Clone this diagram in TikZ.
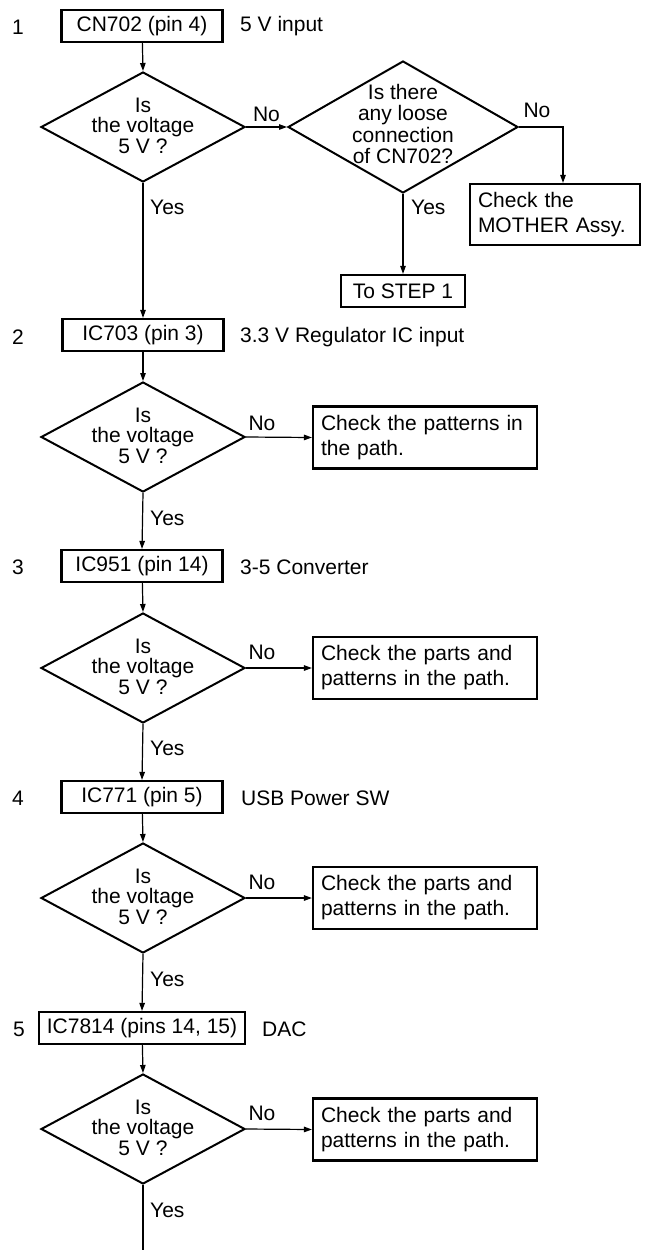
\documentclass[tikz,border=0pt]{standalone}
\usepackage{fontspec}
\setmainfont{Liberation Sans}
\usetikzlibrary{shapes.geometric,arrows.meta}
\begin{document}
\begin{tikzpicture}[x=1pt,y=-1pt,
  every node/.style={font=\fontsize{21}{21}\selectfont, inner sep=0pt},
  stepbox/.style={draw, line width=2.2pt, minimum width=161pt, minimum height=32pt},
  dia/.style={draw, diamond, line width=2pt, minimum width=204pt, minimum height=110pt},
  dtext/.style={align=center, font=\fontsize{21}{20.5}\selectfont},
  chk/.style={draw, line width=2.2pt, minimum width=224pt, minimum height=62pt, text width=208pt, align=left, font=\fontsize{21}{25}\selectfont},
  conn/.style={line width=1.2pt},
  arr/.style={conn, -{Triangle[length=8pt,width=5.5pt]}},
  lbl/.style={anchor=west},
  num/.style={anchor=center}
]
\useasboundingbox (0,0) rectangle (669,1250);

% ---------- Step 1 ----------
\node[num] (n1) at (18,27) {1};
\node[stepbox] (s1) at (142,26) {CN702 (pin 4)};
\node[lbl] (t1) at (240,26) {5 V input};
\node[dia] (d1) at (143,127) {};
\node[dtext] (d1t) at (143,125.5) {Is\\the voltage\\5 V ?};

\node[draw, diamond, line width=2pt, minimum width=230pt, minimum height=132pt] (q) at (403,127) {};
\node[dtext, font=\fontsize{21}{21.5}\selectfont] (qt) at (403,124) {Is there\\any loose\\connection\\of CN702?};
\node[draw, line width=2.2pt, minimum width=170pt, minimum height=61pt, text width=154pt, align=left, font=\fontsize{21}{25}\selectfont] (m) at (555,214.5) {Check the\\MOTHER Assy.};
\node[draw, line width=2.2pt, minimum width=124pt, minimum height=32pt] (ts) at (403,291) {To STEP 1};

\draw[arr] (s1) -- (d1.north);
\draw[arr] (d1.east) -- node[above=5pt] (no1) {No} (q.west);
\draw[arr] (q.east) -| ([xshift=8pt]m.north);
\node (no1b) at (537,110) {No};
\draw[arr] (q.south) -- (ts.north);
\node[lbl] (yq) at (411,207) {Yes};
\node[lbl] (y1) at (150,207) {Yes};

% ---------- Step 2 ----------
\node[num] (n2) at (18,337) {2};
\node[stepbox] (s2) at (143,335) {IC703 (pin 3)};
\node[lbl] (t2) at (240,337) {3.3 V Regulator IC input};
\node[dia] (d2) at (143,437) {};
\node[dtext] (d2t) at (143,435.5) {Is\\the voltage\\5 V ?};
\node[chk] (c2) at (425,437.5) {Check the patterns in the path.};
\draw[arr] (d1.south) -- (s2.north);
\draw[arr] (s2) -- (d2.north);
\draw[arr] (d2.east) -- (c2.west);
\node (no2) at (262,423) {No};
\node[lbl] (y2) at (150,518) {Yes};

% ---------- Step 3 ----------
\node[num] (n3) at (18,567) {3};
\node[stepbox] (s3) at (142,566) {IC951 (pin 14)};
\node[lbl] (t3) at (240,567) {3-5 Converter};
\node[dia] (d3) at (143,668) {};
\node[dtext] (d3t) at (143,666.5) {Is\\the voltage\\5 V ?};
\node[chk] (c3) at (425,668) {Check the parts and\\patterns in the path.};
\draw[arr] (d2.south) -- (s3.north);
\draw[arr] (s3) -- (d3.north);
\draw[arr] (d3.east) -- (c3.west);
\node (no3) at (262,652) {No};
\node[lbl] (y3) at (150,748) {Yes};

% ---------- Step 4 ----------
\node[num] (n4) at (18,798) {4};
\node[stepbox] (s4) at (142,797) {IC771 (pin 5)};
\node[lbl] (t4) at (241,798) {USB Power SW};
\node[dia] (d4) at (143,898) {};
\node[dtext] (d4t) at (143,896.5) {Is\\the voltage\\5 V ?};
\node[chk] (c4) at (425,898) {Check the parts and\\patterns in the path.};
\draw[arr] (d3.south) -- (s4.north);
\draw[arr] (s4) -- (d4.north);
\draw[arr] (d4.east) -- (c4.west);
\node (no4) at (262,882) {No};
\node[lbl] (y4) at (150,979) {Yes};

% ---------- Step 5 ----------
\node[num] (n5) at (19,1029) {5};
\node[stepbox, minimum width=206pt] (s5) at (142,1028) {IC7814 (pins 14, 15)};
\node[lbl] (t5) at (262,1029) {DAC};
\node[dia] (d5) at (143,1129) {};
\node[dtext] (d5t) at (143,1127.5) {Is\\the voltage\\5 V ?};
\node[chk] (c5) at (425,1129.5) {Check the parts and\\patterns in the path.};
\draw[arr] (d4.south) -- (s5.north);
\draw[arr] (s5) -- (d5.north);
\draw[arr] (d5.east) -- (c5.west);
\node (no5) at (262,1113) {No};
\node[lbl] (y5) at (150,1210) {Yes};
\coordinate (end) at (143,1250);
\draw[conn] (d5.south) -- (end);
\end{tikzpicture}
\end{document}
